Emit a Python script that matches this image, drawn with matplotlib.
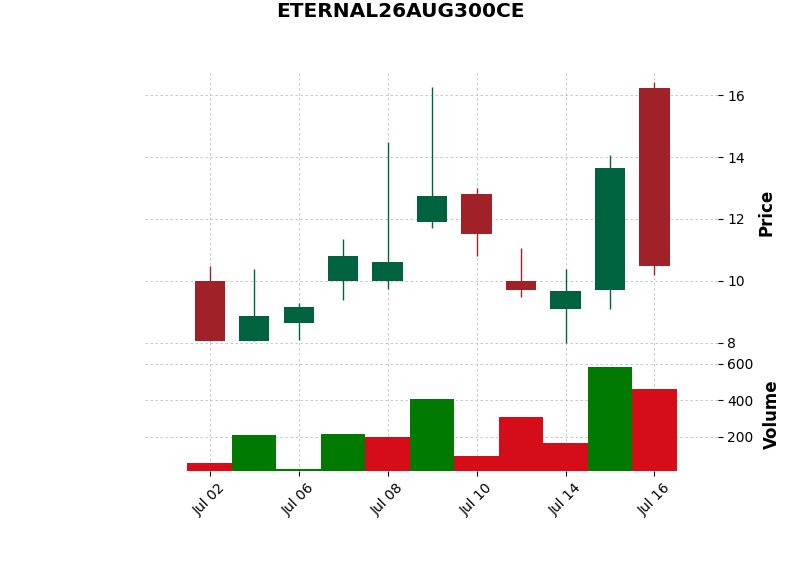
import matplotlib
matplotlib.use("Agg")
import matplotlib.pyplot as plt
import numpy as np

title = "ETERNAL26AUG300CE"
dates = ["Jul 02", "Jul 03", "Jul 06", "Jul 07", "Jul 08", "Jul 09",
         "Jul 10", "Jul 13", "Jul 14", "Jul 15", "Jul 16"]
opens = [10.00, 8.07, 8.64, 10.00, 10.00, 11.90, 12.80, 10.00, 9.10, 9.72, 16.23]
highs = [10.47, 10.38, 9.29, 11.35, 14.50, 16.25, 13.00, 11.08, 10.38, 14.05, 16.41]
lows = [8.05, 8.05, 8.10, 9.40, 9.75, 11.70, 10.80, 9.48, 7.99, 9.10, 10.20]
closes = [8.07, 8.86, 9.15, 10.82, 10.60, 12.75, 11.52, 9.72, 9.66, 13.63, 10.47]
volumes = [53, 207, 20, 213, 196, 405, 91, 306, 163, 582, 461]
tick_idx = [0, 2, 4, 6, 8, 10]

up_c, down_c = "#006340", "#a02128"
vup_c, vdown_c = "#007a00", "#d50d18"

x = np.arange(len(dates))
o = np.array(opens); c = np.array(closes); h = np.array(highs); l = np.array(lows)
up = c >= o
ccol = [up_c if u else down_c for u in up]
prev = np.concatenate([[o[0]], c[:-1]])
vcol = [vup_c if ci > pi else vdown_c for ci, pi in zip(c, prev)]

fig = plt.figure(figsize=(8, 5.75), dpi=100)
axp = fig.add_axes([0.181, 0.3826, 0.716, 0.4957])
axv = fig.add_axes([0.181, 0.181, 0.716, 0.196], sharex=axp)

grid_kw = dict(color="#c0c0c0", linestyle=(0, (3, 3)), linewidth=0.6)
for ax in (axp, axv):
    for s in ax.spines.values():
        s.set_visible(False)
    ax.grid(True, **grid_kw)
    ax.set_axisbelow(True)
    ax.yaxis.tick_right()
    ax.yaxis.set_label_position("right")
    ax.tick_params(axis="y", length=3.5, width=0.8, labelsize=10)

axp.vlines(x, l, h, colors=ccol, linewidth=1.0, zorder=2)
axp.bar(x, c - o, bottom=o, width=0.68, color=ccol, linewidth=0, zorder=3)
axp.set_ylim(7.61, 16.81)
axp.set_yticks([8, 10, 12, 14, 16])
axp.set_ylabel("Price", fontsize=12, fontweight="bold", labelpad=9)
axp.tick_params(axis="x", length=0, labelbottom=False)

axv.bar(x, volumes, width=1.0, color=vcol, linewidth=0, zorder=3)
axv.set_ylim(10.5, 631)
axv.set_yticks([200, 400, 600])
axv.set_ylabel("Volume", fontsize=12, fontweight="bold", labelpad=7)
axv.set_xlim(-1.46, 11.42)
axv.set_xticks(tick_idx)
axv.set_xticklabels([dates[i] for i in tick_idx], rotation=45, fontsize=10)
axv.tick_params(axis="x", length=3.5, width=0.8)

fig.suptitle(title, fontsize=14.5, fontweight="bold", y=0.997)
fig.savefig("out.png", dpi=100)
